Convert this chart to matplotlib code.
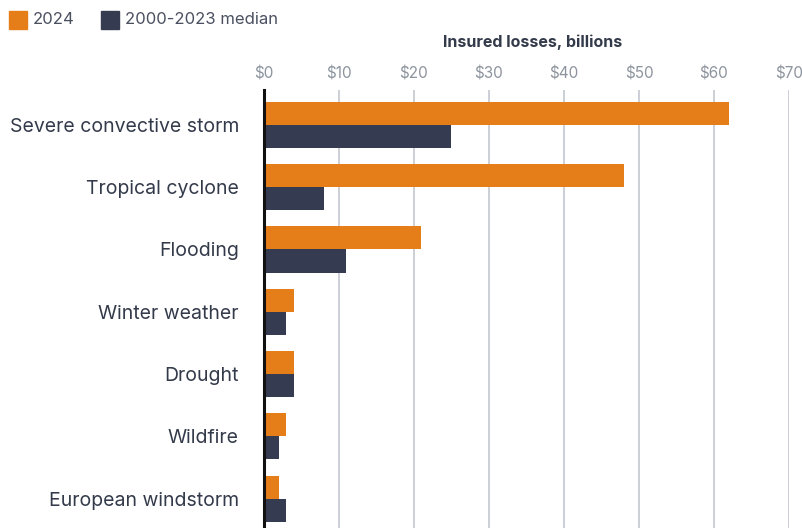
import matplotlib.pyplot as plt
import numpy as np
from matplotlib.patches import Rectangle

# Insured losses by peril, billions USD
perils = ["Severe convective storm", "Tropical cyclone", "Flooding",
          "Winter weather", "Drought", "Wildfire", "European windstorm"]
losses_2024 = [62, 48, 21, 4, 4, 3, 2]
losses_median = [25, 8, 11, 3, 4, 2, 3]
x_ticks = [0, 10, 20, 30, 40, 50, 60, 70]
x_ticklabels = ["$" + str(t) for t in x_ticks]

orange = "#E57E18"
navy = "#353B50"
label_color = "#333A4A"
tick_color = "#8D949E"

plt.rcParams['font.family'] = ['Inter', 'DejaVu Sans']

fig = plt.figure(figsize=(8.03, 5.28), dpi=100)
W, H = 803, 528
ax = fig.add_axes([264 / W, 0, (789 - 264) / W, 1 - 90 / H])

y = np.arange(len(perils))
h = 0.37
ax.barh(y - h / 2, losses_2024, height=h, color=orange, zorder=3)
ax.barh(y + h / 2, losses_median, height=h, color=navy, zorder=3)

ax.set_xlim(0, 70)
ax.set_ylim(6.47, -0.56)
ax.set_xticks(x_ticks)
ax.set_xticklabels(x_ticklabels)
ax.xaxis.tick_top()
ax.tick_params(axis='x', length=0, pad=6, labelsize=11, labelcolor=tick_color)
ax.set_yticks(y)
ax.set_yticklabels(perils)
ax.tick_params(axis='y', length=0, pad=18, labelsize=14, labelcolor=label_color)

ax.grid(axis='x', color='#C8CCD2', linewidth=1.3, zorder=0)
for s in ['top', 'right', 'bottom']:
    ax.spines[s].set_visible(False)
ax.spines['left'].set_color('#111111')
ax.spines['left'].set_linewidth(2.2)
ax.spines['left'].set_zorder(4)

# axis title
fig.text(533 / W, 1 - 42 / H, "Insured losses, billions", ha='center', va='center',
         fontsize=11.5, fontweight='bold', color=label_color)

# legend drawn as squares + text
for x0, col, lab in [(9, orange, "2024"), (101, navy, "2000-2023 median")]:
    fig.patches.append(Rectangle((x0 / W, 1 - 29 / H), 18 / W, 18 / H,
                                 transform=fig.transFigure, color=col))
    fig.text((x0 + 24) / W, 1 - 20 / H, lab, ha='left', va='center',
             fontsize=12, color="#4A5060")

fig.savefig("out.png", dpi=100)
